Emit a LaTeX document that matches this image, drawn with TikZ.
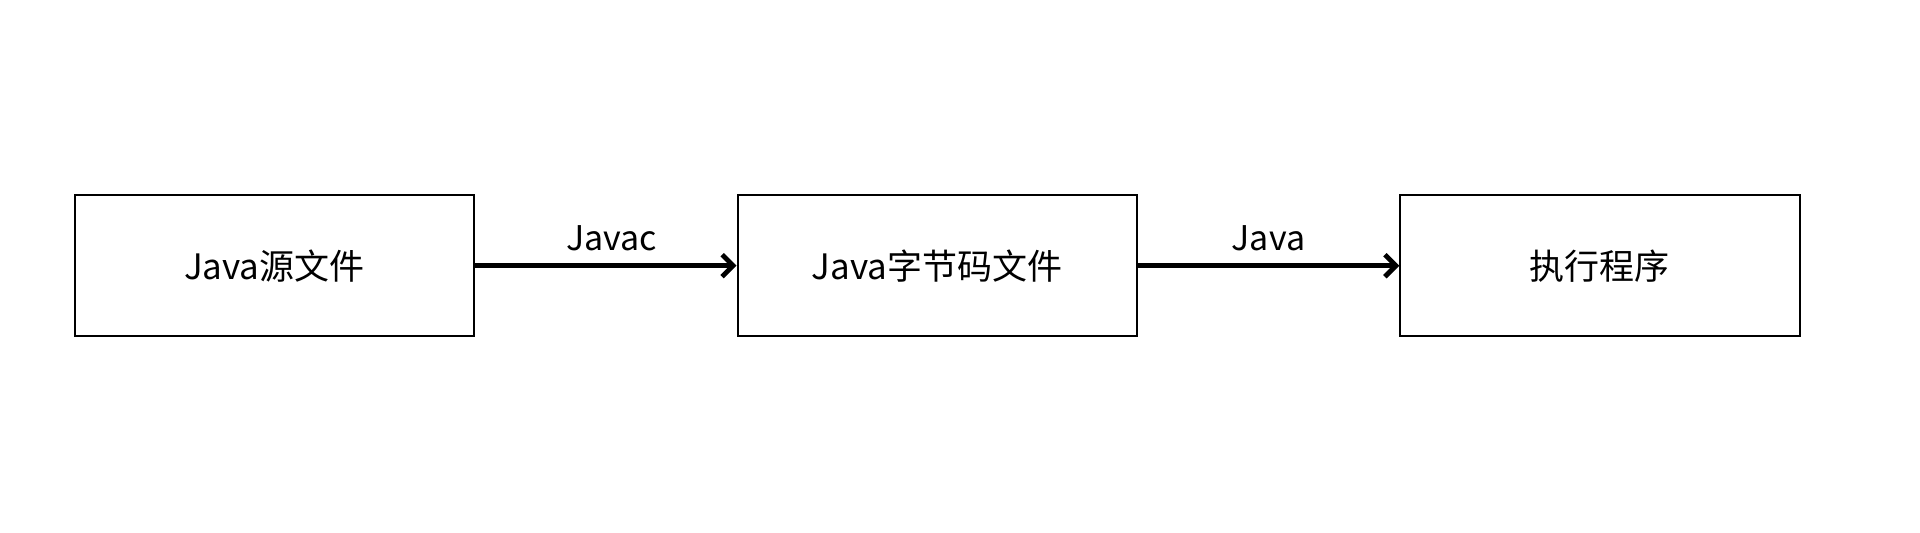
\documentclass[tikz,border=0pt]{standalone}
\usepackage{fontspec}
\setmainfont{Noto Sans CJK SC}
\usepackage{tikz}
\usetikzlibrary{arrows.meta,positioning}

\tikzset{
  filebox/.style={rectangle,draw,line width=1pt,minimum width=199.6pt,minimum height=70.5pt,inner sep=0pt,font=\fontsize{17.5}{20}\selectfont},
  flow/.style={-{Straight Barb[length=5.5pt,width=11pt,line width=2.4pt]},line width=2.4pt},
  flowlabel/.style={midway,yshift=13.5pt,inner sep=0pt,font=\fontsize{17}{20}\selectfont}
}

\begin{document}
\begin{tikzpicture}[x=0.5pt,y=0.5pt]
  \useasboundingbox (0,0) rectangle (1920,532);
  \node[filebox] (src) at (274.3,266.3) {Java源文件};
  \node[filebox,right=130.8pt of src] (cls) {Java字节码文件};
  \node[filebox,right=130.8pt of cls] (run) {执行程序};
  \draw[flow] (src) -- (cls) node[flowlabel,xshift=3pt] (javac) {Javac};
  \draw[flow] (cls) -- (run) node[flowlabel] (java) {Java};
\end{tikzpicture}
\end{document}
